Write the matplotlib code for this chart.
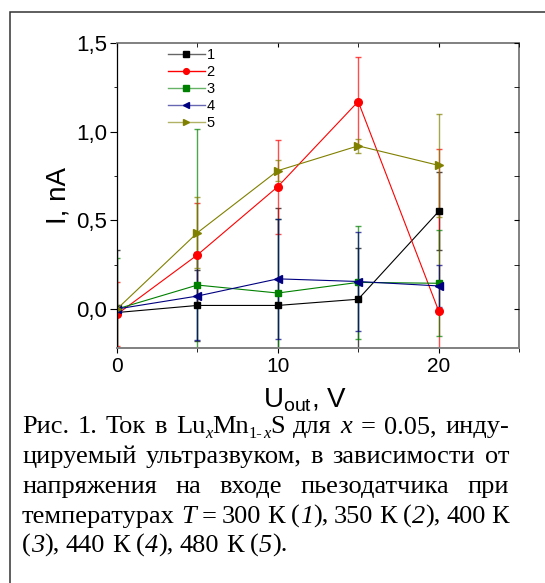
import numpy as np
import matplotlib
matplotlib.use("Agg")
import matplotlib.pyplot as plt
from matplotlib.lines import Line2D
from matplotlib.patches import Rectangle
from matplotlib.ticker import MultipleLocator, FuncFormatter

plt.rcParams['font.family'] = ['Liberation Sans', 'DejaVu Sans']
plt.rcParams['mathtext.fontset'] = 'custom'
plt.rcParams['mathtext.rm'] = 'Liberation Sans'
plt.rcParams['mathtext.sf'] = 'Liberation Sans'

# données
u_out = [0, 5, 10, 15, 20]
labels = ['1', '2', '3', '4', '5']
i_300 = [-0.02, 0.02, 0.02, 0.055, 0.55]
e_300 = [0.35, 0.20, 0.55, 0.29, 0.22]
i_350 = [-0.03, 0.305, 0.69, 1.17, -0.01]
e_350 = [0.18, 0.29, 0.265, 0.25, 0.91]
i_400 = [0.0, 0.135, 0.09, 0.15, 0.145]
e_400 = [0.29, 0.88, 0.42, 0.32, 0.30]
i_440 = [0.0, 0.073, 0.17, 0.155, 0.13]
e_440 = [0.02, 0.25, 0.34, 0.28, 0.12]
i_480 = [0.0, 0.43, 0.78, 0.92, 0.81]
e_480 = [0.02, 0.20, 0.06, 0.04, 0.29]

series = [(i_300, e_300, 'black', 's', 5),
          (i_350, e_350, 'red', 'o', 5.5),
          (i_400, e_400, 'green', 's', 5),
          (i_440, e_440, 'navy', '<', 5.5),
          (i_480, e_480, 'olive', '>', 5.5)]

W, H = 545, 583
fig = plt.figure(figsize=(W / 100, H / 100), dpi=100)
ax = fig.add_axes([117 / W, 1 - 348 / H, 402 / W, 305 / H])

handles = []
for (y, e, c, m, ms) in series:
    ecol = matplotlib.colors.to_rgba(c, 0.7)
    ax.errorbar(u_out, y, yerr=e, color=c, ecolor=ecol, marker=m, ms=ms,
                lw=0.8, elinewidth=1.0, capsize=2.2, capthick=1.0)
    handles.append(Line2D([], [], color=matplotlib.colors.to_rgba(c, 0.6) if c != 'red' else c,
                          lw=1.0, marker=m, ms=ms * 0.75, mfc=c, mec=c))

ax.set_xlim(0, 25)
ax.set_ylim(-0.22, 1.5)
ax.xaxis.set_major_locator(MultipleLocator(10))
ax.xaxis.set_minor_locator(MultipleLocator(5))
ax.yaxis.set_major_locator(MultipleLocator(0.5))
ax.yaxis.set_minor_locator(MultipleLocator(0.25))
ax.yaxis.set_major_formatter(FuncFormatter(lambda v, p: f"{v:.1f}".replace('.', ',')))
ax.tick_params(which='both', direction='out', labelsize=16, colors='black')
ax.tick_params(axis='x', labelsize=15)
ax.tick_params(axis='y', which='major', length=5, pad=2)
ax.tick_params(axis='y', which='minor', length=2.2)
ax.tick_params(axis='x', which='major', length=3.5, pad=3)
ax.tick_params(axis='x', which='minor', length=3)
for s in ['top', 'right', 'bottom']:
    ax.spines[s].set_color('#808080')
    ax.spines[s].set_linewidth(1.4)
ax.spines['left'].set_color('black')
ax.spines['left'].set_linewidth(0.9)

# graduations intérieures en haut et à droite
axr = ax.twinx()
axr.set_ylim(ax.get_ylim())
axr.yaxis.set_major_locator(MultipleLocator(0.5))
axr.yaxis.set_minor_locator(MultipleLocator(0.25))
axr.tick_params(which='both', direction='in', labelright=False, length=3.5)
axt = ax.twiny()
axt.set_xlim(ax.get_xlim())
axt.xaxis.set_major_locator(MultipleLocator(10))
axt.xaxis.set_minor_locator(MultipleLocator(5))
axt.tick_params(which='both', direction='in', labeltop=False, length=3)
for a in (axr, axt):
    for s in a.spines.values():
        s.set_visible(False)

ax.set_ylabel('I, nA', fontsize=20)
ax.yaxis.set_label_coords(-0.112, 0.5)
ax.set_xlabel(r'U$_{\mathsf{out}}$, V', fontsize=20)
ax.xaxis.set_label_coords(0.468, -0.125)

ax.legend(handles, labels, loc='upper left', bbox_to_anchor=(0.127, 0.983),
          frameon=False, fontsize=10.5, borderpad=0, borderaxespad=0,
          handlelength=2.5, handletextpad=0.15, labelspacing=0.2)

# cadre autour de la figure
fig.patches.append(Rectangle((10 / W, -0.1), 1.2, 1.1 - 12 / H, transform=fig.transFigure,
                             fill=False, ec='#333333', lw=1.1, clip_on=False))

# légende de la figure, justifiée mot par mot
# chaque mot = liste de morceaux (texte, italique, indice)
FS = 19
def w_(s):
    return [(s, False, False)]
def it(s):
    return [(s, True, False)]
def num(n, end):
    return [('(', False, False), (n, True, False), (')' + end, False, False)]

lines = [
    ([w_('Рис.'), w_('1.'), w_('Ток'), w_('в'),
      [('Lu', False, False), ('x', True, True), ('Mn', False, False),
       ('1-', False, True), ('x', True, True), ('S', False, False)],
      w_('для'), it('x'), w_('='), w_('0.05,'), w_('инду-')], True),
    ([w_('цируемый'), w_('ультразвуком,'), w_('в'), w_('зависимости'), w_('от')], True),
    ([w_('напряжения'), w_('на'), w_('входе'), w_('пьезодатчика'), w_('при')], True),
    ([w_('температурах'), it('T'), w_('='), w_('300'), w_('К'), num('1', ','),
      w_('350'), w_('К'), num('2', ','), w_('400'), w_('К')], True),
    ([num('3', ','), w_('440'), w_('К'), num('4', ','), w_('480'), w_('К'), num('5', '.')], False),
]
base_y = [433, 463, 493, 523, 552]
x_left, x_right = 22, 509
renderer = fig.canvas.get_renderer()

def make_word(pieces):
    objs = []
    for s, ital, sub in pieces:
        t = fig.text(0, 0, s, family='Liberation Serif', fontsize=FS * (0.62 if sub else 1),
                     style='italic' if ital else 'normal', va='baseline', ha='left')
        objs.append((t, sub, t.get_window_extent(renderer).width))
    return objs, sum(o[2] for o in objs)

for (words, justify), yb in zip(lines, base_y):
    built = [make_word(p) for p in words]
    total = sum(b[1] for b in built)
    if justify:
        gap = (x_right - x_left - total) / (len(words) - 1)
    else:
        gap = FS * 100 / 72 * 0.25
    x = x_left
    for objs, wtot in built:
        for t, sub, w in objs:
            t.set_position((x / W, 1 - (yb + (5 if sub else 0)) / H))
            x += w
        x += gap

fig.savefig('out.png', dpi=100)
